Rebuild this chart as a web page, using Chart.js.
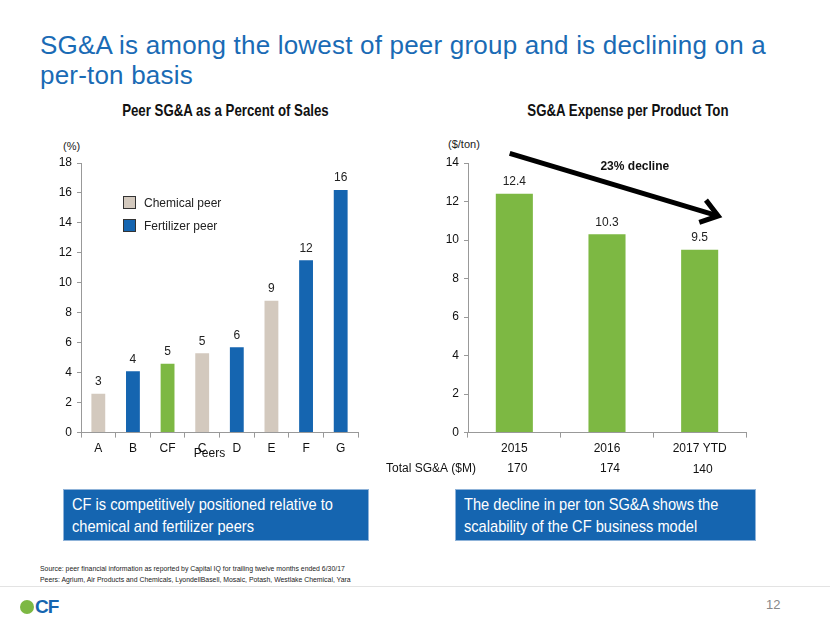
<!DOCTYPE html>
<html>
<head>
<meta charset="utf-8">
<script src="https://cdn.jsdelivr.net/npm/chart.js@4"></script>
<style>
  body { margin: 0; background: #fff; font-family: "Liberation Sans", Arial, sans-serif; }
  #page { position: relative; width: 830px; height: 623px; overflow: hidden; }
  .abs { position: absolute; }
  #titulo { left: 40px; top: 30px; width: 775px; color: #1a6bb5; font-size: 26px; line-height: 30px; letter-spacing: 0.2px; }
  .subtit { top: 101px; font-weight: bold; font-size: 17px; color: #111; text-align: center; }
  .subtit span { display: inline-block; transform: scaleX(0.78); white-space: nowrap; }
  .unidad { font-size: 11px; color: #222; }
  .caja { top: 489px; height: 52px; background: #1565b0; color: #fff; font-size: 17px; line-height: 22px; padding: 4px 8px; box-sizing: border-box; border: 1px solid #8fb3d9; overflow: hidden; }
  .caja div { width: 116%; transform: scaleX(0.86); transform-origin: left top; }
  #leyenda { left: 123px; top: 191px; font-size: 12px; color: #222; }
  #leyenda div { display: flex; align-items: center; height: 23px; }
  #leyenda span.sq { width: 13px; height: 13px; border: 1px solid #333; margin-right: 8px; box-sizing: border-box; }
  #fuente { left: 40px; top: 563px; font-size: 8px; line-height: 11px; color: #222; transform: scaleX(0.86); transform-origin: left top; white-space: nowrap; }
  #linea { left: 0; top: 586px; width: 830px; height: 1px; background: #e3e3e3; }
  #logo { left: 20px; top: 596px; display: flex; align-items: center; }
  #logo .c { width: 14px; height: 14px; border-radius: 50%; background: #7db843; }
  #logo .t { color: #1565b0; font-weight: bold; font-size: 19px; margin-left: 1px; letter-spacing: -1px; }
  #pagina { left: 766px; top: 597px; font-size: 13px; color: #888; }
</style>
</head>
<body>
<div id="page">
  <div id="titulo" class="abs">SG&amp;A is among the lowest of peer group and is declining on a <span style="white-space:nowrap">per-ton</span> basis</div>

  <div class="abs subtit" style="left:80px;width:290px;"><span>Peer SG&amp;A as a Percent of Sales</span></div>
  <div class="abs subtit" style="left:470px;width:315px;"><span>SG&amp;A Expense per Product Ton</span></div>
  <div class="abs unidad" style="left:63px;top:140px;">(%)</div>
  <div class="abs unidad" style="left:448px;top:138px;">($/ton)</div>

  <div class="abs" style="left:40px;top:120px;width:330px;height:345px;"><canvas id="graficaPeers"></canvas></div>
  <div class="abs" style="left:370px;top:120px;width:400px;height:360px;"><canvas id="graficaTon"></canvas></div>

  <div id="leyenda" class="abs"></div>

  <div class="abs caja" style="left:63px;width:306px;"><div>CF is competitively positioned relative to chemical and fertilizer peers</div></div>
  <div class="abs caja" style="left:455px;width:301px;"><div>The decline in per ton SG&amp;A shows the scalability of the CF business model</div></div>

  <div id="fuente" class="abs">Source: peer financial information as reported by Capital IQ for trailing twelve months ended 6/30/17<br>Peers: Agrium, Air Products and Chemicals, LyondellBasell, Mosaic, Potash, Westlake Chemical, Yara</div>
  <div id="linea" class="abs"></div>
  <div id="logo" class="abs"><span class="c"></span><span class="t">CF</span></div>
  <div id="pagina" class="abs">12</div>
</div>

<script>
// Datos del grafico izquierdo
const peers = ["A", "B", "CF", "C", "D", "E", "F", "G"];
const peerValores = [2.6, 4.1, 4.6, 5.3, 5.7, 8.8, 11.5, 16.2];
const peerEtiquetas = ["3", "4", "5", "5", "6", "9", "12", "16"];
const peerTipo = ["Chemical peer", "Fertilizer peer", "CF", "Chemical peer", "Fertilizer peer", "Chemical peer", "Fertilizer peer", "Fertilizer peer"];
const peerTicks = [0, 2, 4, 6, 8, 10, 12, 14, 16, 18];

// Datos del grafico derecho
const anios = ["2015", "2016", "2017 YTD"];
const costoTon = [12.4, 10.3, 9.5];
const costoEtiquetas = ["12.4", "10.3", "9.5"];
const totalSGA = ["170", "174", "140"];
const tonTicks = [0, 2, 4, 6, 8, 10, 12, 14];
const declive = "23% decline";

const colores = {
  "Chemical peer": "#d3c9be",
  "Fertilizer peer": "#1565b0",
  "CF": "#7db843"
};
const FUENTE = "'Liberation Sans', Arial, sans-serif";

// Leyenda
const leyenda = document.getElementById("leyenda");
["Chemical peer", "Fertilizer peer"].forEach(n => {
  const fila = document.createElement("div");
  fila.innerHTML = `<span class="sq" style="background:${colores[n]}"></span>${n}`;
  leyenda.appendChild(fila);
});

// Etiquetas sobre las barras
const etiquetasPlugin = {
  id: "etiquetas",
  afterDatasetsDraw(chart, args, opts) {
    const ctx = chart.ctx;
    const meta = chart.getDatasetMeta(0);
    ctx.save();
    ctx.font = "12px " + FUENTE;
    ctx.fillStyle = "#222";
    ctx.textAlign = "center";
    ctx.textBaseline = "bottom";
    meta.data.forEach((bar, i) => {
      ctx.fillText(opts.textos[i], bar.x, bar.y - 6);
    });
    ctx.restore();
  }
};

function ejes(max, ticks, anchoY) {
  return {
    x: {
      grid: { display: true, drawOnChartArea: false, drawTicks: true, tickLength: 5, color: "#999", offset: true },
      border: { color: "#999" },
      ticks: { color: "#111", font: { family: FUENTE, size: 12 }, padding: 4, maxRotation: 0 }
    },
    y: {
      min: 0, max: max,
      afterBuildTicks: s => { s.ticks = ticks.map(v => ({ value: v })); },
      afterFit: s => { s.width = anchoY; },
      grid: { display: true, drawOnChartArea: false, drawTicks: true, tickLength: 4, color: "#999" },
      border: { color: "#999" },
      ticks: { color: "#111", font: { family: FUENTE, size: 12 }, padding: 5 }
    }
  };
}

// Grafico izquierdo
new Chart(document.getElementById("graficaPeers").getContext("2d"), {
  type: "bar",
  data: {
    labels: peers,
    datasets: [{
      data: peerValores,
      backgroundColor: peerTipo.map(t => colores[t]),
      barPercentage: 0.4,
      categoryPercentage: 1
    }]
  },
  options: {
    responsive: true,
    maintainAspectRatio: false,
    animation: false,
    layout: { padding: { top: 43, right: 12, bottom: 5, left: 0 } },
    plugins: {
      legend: { display: false },
      tooltip: { enabled: false },
      etiquetas: { textos: peerEtiquetas }
    },
    scales: ejes(18, peerTicks, 41)
  },
  plugins: [etiquetasPlugin, {
    id: "tituloX",
    afterDraw(chart) {
      const ctx = chart.ctx, a = chart.chartArea;
      ctx.save();
      ctx.font = "12px " + FUENTE;
      ctx.fillStyle = "#111";
      ctx.textAlign = "center";
      ctx.textBaseline = "middle";
      ctx.fillText("Peers", (a.left + a.right) / 2 - 10, a.bottom + 21);
      ctx.restore();
    }
  }]
});

// Grafico derecho
new Chart(document.getElementById("graficaTon").getContext("2d"), {
  type: "bar",
  data: {
    labels: anios,
    datasets: [{
      data: costoTon,
      backgroundColor: colores["CF"],
      barPercentage: 0.4,
      categoryPercentage: 1
    }]
  },
  options: {
    responsive: true,
    maintainAspectRatio: false,
    animation: false,
    layout: { padding: { top: 43, right: 24, bottom: 20, left: 0 } },
    plugins: {
      legend: { display: false },
      tooltip: { enabled: false },
      etiquetas: { textos: costoEtiquetas }
    },
    scales: ejes(14, tonTicks, 98)
  },
  plugins: [etiquetasPlugin, {
    id: "flechaYTotales",
    afterDraw(chart) {
      const ctx = chart.ctx;
      const xs = chart.scales.x, ys = chart.scales.y;
      const a = chart.chartArea;
      ctx.save();
      // Fila de totales
      ctx.font = "12px " + FUENTE;
      ctx.fillStyle = "#111";
      ctx.textBaseline = "middle";
      ctx.textAlign = "left";
      ctx.fillText("Total SG&A ($M)", 16, a.bottom + 36);
      ctx.textAlign = "center";
      totalSGA.forEach((t, i) => ctx.fillText(t, xs.getPixelForValue(i) + 3, a.bottom + 36 + (i === 2 ? 1 : 0)));

      // Flecha de tendencia
      const paso = xs.getPixelForValue(1) - xs.getPixelForValue(0);
      const x0 = xs.getPixelForValue(0) - 0.05 * paso, y0 = ys.getPixelForValue(14.5);
      const x1 = xs.getPixelForValue(2) + 0.2 * paso, y1 = ys.getPixelForValue(11.25);
      const ang = Math.atan2(y1 - y0, x1 - x0);
      ctx.strokeStyle = "#000";
      ctx.lineWidth = 5;
      ctx.lineCap = "butt";
      ctx.beginPath();
      ctx.moveTo(x0, y0);
      ctx.lineTo(x1 - 3 * Math.cos(ang), y1 - 3 * Math.sin(ang));
      ctx.stroke();
      ctx.lineJoin = "miter";
      ctx.beginPath();
      const L = 20, abre = 0.62;
      ctx.moveTo(x1 - L * Math.cos(ang - abre), y1 - L * Math.sin(ang - abre));
      ctx.lineTo(x1, y1);
      ctx.lineTo(x1 - L * Math.cos(ang + abre), y1 - L * Math.sin(ang + abre));
      ctx.stroke();

      ctx.font = "bold 12px " + FUENTE;
      ctx.fillStyle = "#111";
      ctx.textAlign = "center";
      ctx.fillText(declive, xs.getPixelForValue(1.3), ys.getPixelForValue(13.8));
      ctx.restore();
    }
  }]
});
</script>
</body>
</html>
